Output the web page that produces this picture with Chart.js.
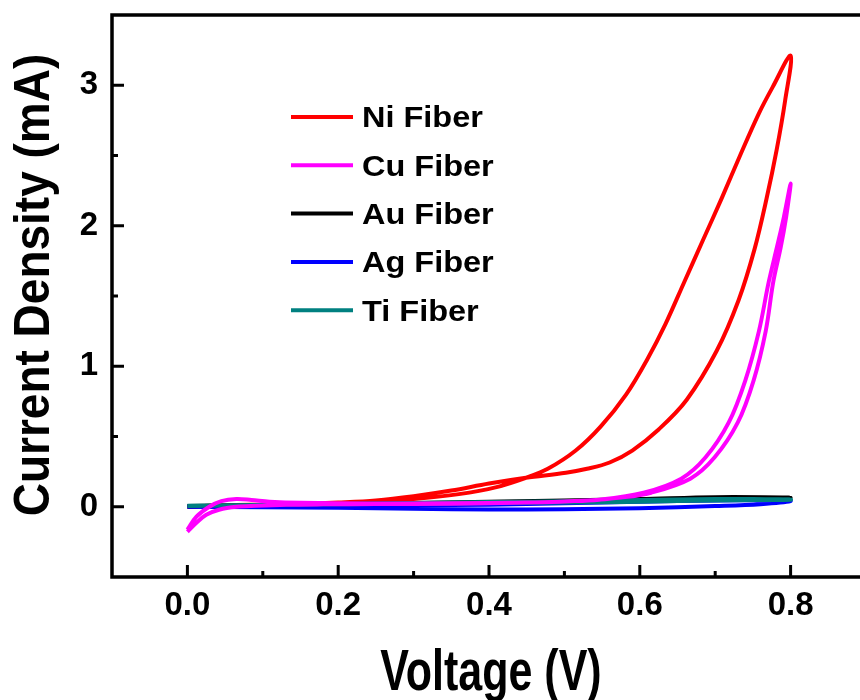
<!DOCTYPE html>
<html>
<head>
<meta charset="utf-8">
<script src="https://cdn.jsdelivr.net/npm/chart.js@4.4.1/dist/chart.umd.min.js"></script>
<style>
html, body { margin: 0; padding: 0; background: #fff; overflow: hidden; }
#wrap { width: 880px; height: 700px; }
</style>
</head>
<body>
<div id="wrap"><canvas id="cv" width="880" height="700"></canvas></div>
<script>
// CV loops, voltage (V) vs current density (mA)
const niV = [0.00, 0.05, 0.10, 0.15, 0.20, 0.25, 0.30, 0.35, 0.40, 0.449, 0.502, 0.53, 0.56, 0.59, 0.625, 0.662, 0.702, 0.731, 0.752, 0.768, 0.7815, 0.7927, 0.80,
             0.776, 0.758, 0.733, 0.709, 0.684, 0.659, 0.634, 0.610, 0.582, 0.548, 0.515, 0.478, 0.449, 0.41, 0.36, 0.30, 0.25, 0.20, 0.15, 0.10, 0.05, 0.00];
const niI = [0.00, 0.01, 0.015, 0.02, 0.03, 0.045, 0.075, 0.115, 0.165, 0.206, 0.242, 0.27, 0.315, 0.40, 0.55, 0.76, 1.11, 1.47, 1.83, 2.19, 2.54, 2.89, 3.21,
             2.985, 2.80, 2.50, 2.20, 1.90, 1.60, 1.30, 1.05, 0.80, 0.57, 0.40, 0.27, 0.206, 0.14, 0.09, 0.055, 0.04, 0.03, 0.02, 0.015, 0.01, 0.00];

const cuV = [0.00, 0.012, 0.029, 0.045, 0.065, 0.085, 0.109, 0.152, 0.24, 0.35, 0.45, 0.50, 0.546, 0.605, 0.655, 0.687, 0.718, 0.740, 0.758, 0.771, 0.782, 0.791, 0.80,
             0.794, 0.787, 0.777, 0.767, 0.751, 0.730, 0.699, 0.667, 0.615, 0.575, 0.53, 0.45, 0.35, 0.25, 0.18, 0.131, 0.091, 0.065, 0.042, 0.025, 0.012, 0.00];
const cuI = [-0.163, -0.071, 0.00, 0.04, 0.055, 0.048, 0.036, 0.028, 0.024, 0.025, 0.03, 0.038, 0.05, 0.10, 0.20, 0.35, 0.60, 0.90, 1.25, 1.60, 1.85, 2.06, 2.30,
             2.06, 1.85, 1.60, 1.25, 0.90, 0.60, 0.35, 0.20, 0.10, 0.065, 0.045, 0.03, 0.022, 0.019, 0.017, 0.014, 0.007, 0.00, -0.021, -0.057, -0.114, -0.178];

const auV = [0.00, 0.20, 0.40, 0.60, 0.70, 0.80, 0.70, 0.60, 0.40, 0.20, 0.00];
const auI = [0.00, 0.02, 0.03, 0.045, 0.06, 0.065, 0.068, 0.055, 0.035, 0.02, 0.005];

const agV = [0.00, 0.10, 0.20, 0.30, 0.40, 0.50, 0.60, 0.70, 0.76, 0.80, 0.78, 0.70, 0.60, 0.50, 0.40, 0.30, 0.20, 0.10, 0.00];
const agI = [0.00, -0.003, -0.008, -0.015, -0.02, -0.018, -0.01, 0.005, 0.018, 0.04, 0.045, 0.045, 0.035, 0.025, 0.015, 0.01, 0.005, 0.002, 0.00];

const tiV = [0.00, 0.10, 0.20, 0.30, 0.40, 0.50, 0.60, 0.70, 0.80, 0.75, 0.70, 0.60, 0.50, 0.40, 0.30, 0.20, 0.10, 0.00];
const tiI = [0.005, 0.012, 0.018, 0.022, 0.026, 0.03, 0.036, 0.045, 0.05, 0.055, 0.055, 0.048, 0.04, 0.033, 0.027, 0.02, 0.013, 0.008];

const seriesLabels = ['Ni Fiber', 'Cu Fiber', 'Au Fiber', 'Ag Fiber', 'Ti Fiber'];
const seriesColors = ['#ff0000', '#ff00ff', '#000000', '#0000ff', '#008080'];

const xMajorTicks = [0.0, 0.2, 0.4, 0.6, 0.8];
const xMinorTicks = [0.1, 0.3, 0.5, 0.7];
const yMajorTicks = [0, 1, 2, 3];
const yMinorTicks = [0.5, 1.5, 2.5];

const FONT = "'Liberation Sans', Arial, sans-serif";

function toPoints(vs, is) {
    return vs.map((v, k) => ({x: v, y: is[k]}));
}

// ticks point into the plot + frame on top/left/bottom
const framePlugin = {
    id: 'frame',
    afterDraw(chart) {
        const ctx = chart.ctx;
        const a = chart.chartArea;
        const xs = chart.scales.x, ys = chart.scales.y;
        ctx.save();
        ctx.strokeStyle = '#000';
        ctx.lineCap = 'butt';
        ctx.lineWidth = 3.5;
        ctx.beginPath();
        ctx.moveTo(a.right + 20, a.top);
        ctx.lineTo(a.left, a.top);
        ctx.lineTo(a.left, a.bottom);
        ctx.lineTo(a.right + 20, a.bottom);
        ctx.stroke();
        ctx.lineWidth = 3;
        ctx.beginPath();
        xMajorTicks.forEach(v => { const p = xs.getPixelForValue(v); ctx.moveTo(p, a.bottom); ctx.lineTo(p, a.bottom - 12); });
        xMinorTicks.forEach(v => { const p = xs.getPixelForValue(v); ctx.moveTo(p, a.bottom); ctx.lineTo(p, a.bottom - 6); });
        yMajorTicks.forEach(v => { const p = ys.getPixelForValue(v); ctx.moveTo(a.left, p); ctx.lineTo(a.left + 12, p); });
        yMinorTicks.forEach(v => { const p = ys.getPixelForValue(v); ctx.moveTo(a.left, p); ctx.lineTo(a.left + 6, p); });
        ctx.stroke();
        ctx.restore();
    }
};

// axis titles (the figure's lettering is a bit taller than plain Arial)
const titlePlugin = {
    id: 'titles',
    afterDraw(chart) {
        const ctx = chart.ctx;
        ctx.save();
        ctx.fillStyle = '#000';
        ctx.textAlign = 'center';
        ctx.textBaseline = 'alphabetic';
        ctx.font = 'bold 43px ' + FONT;
        ctx.save();
        ctx.translate(491, 690);
        ctx.scale(1, 1.33);
        ctx.fillText('Voltage (V)', 0, 0);
        ctx.restore();
        ctx.font = 'bold 46px ' + FONT;
        ctx.translate(49, 285);
        ctx.rotate(-Math.PI / 2);
        ctx.scale(1, 1.08);
        ctx.fillText('Current Density (mA)', 0, 0);
        ctx.restore();
    }
};

const legendPlugin = {
    id: 'boxLegend',
    afterDraw(chart) {
        const ctx = chart.ctx;
        ctx.save();
        ctx.font = 'bold 29px ' + FONT;
        ctx.textAlign = 'left';
        ctx.textBaseline = 'alphabetic';
        chart.data.datasets.forEach((ds, i) => {
            const y = 117 + i * 48.3;
            ctx.strokeStyle = ds.borderColor;
            ctx.lineWidth = 4;
            ctx.beginPath();
            ctx.moveTo(291, y);
            ctx.lineTo(353, y);
            ctx.stroke();
            ctx.save();
            ctx.translate(362, y + 10.4);
            ctx.scale(1.12, 1);
            ctx.fillStyle = '#000';
            ctx.fillText(ds.label, 0, 0);
            ctx.restore();
        });
        ctx.restore();
    }
};

const loops = [[niV, niI], [cuV, cuI], [auV, auI], [agV, agI], [tiV, tiI]];
const drawOrder = [4, 0, 3, 2, 1]; // Cu on top, Ni at the bottom

new Chart(document.getElementById('cv'), {
    type: 'scatter',
    data: {
        datasets: loops.map((l, i) => ({
            label: seriesLabels[i],
            data: toPoints(l[0], l[1]),
            showLine: true,
            borderColor: seriesColors[i],
            backgroundColor: seriesColors[i],
            borderWidth: 4,
            pointRadius: 0,
            tension: 0.35,
            fill: false,
            order: drawOrder[i]
        }))
    },
    options: {
        responsive: false,
        animation: false,
        devicePixelRatio: 1,
        layout: { padding: { top: 15, right: 14, left: 0, bottom: 0 } },
        plugins: {
            legend: { display: false },
            tooltip: { enabled: false }
        },
        scales: {
            x: {
                type: 'linear',
                min: -0.1,
                max: 0.9,
                grid: { display: false, drawTicks: false },
                border: { display: false },
                afterBuildTicks: s => { s.ticks = xMajorTicks.map(v => ({value: v})); },
                afterFit: s => { s.height = 123; s.paddingLeft = 0; s.paddingRight = 0; },
                ticks: {
                    color: '#000',
                    padding: 9,
                    maxRotation: 0,
                    font: { family: FONT, size: 33, weight: 'bold' },
                    callback: v => v.toFixed(1)
                }
            },
            y: {
                type: 'linear',
                min: -0.5,
                max: 3.5,
                grid: { display: false, drawTicks: false },
                border: { display: false },
                afterBuildTicks: s => { s.ticks = yMajorTicks.map(v => ({value: v})); },
                afterFit: s => { s.width = 112; s.paddingTop = 0; s.paddingBottom = 0; },
                ticks: {
                    color: '#000',
                    padding: 14,
                    font: { family: FONT, size: 33, weight: 'bold' },
                    callback: v => String(v)
                }
            }
        }
    },
    plugins: [framePlugin, titlePlugin, legendPlugin]
});
</script>
</body>
</html>
